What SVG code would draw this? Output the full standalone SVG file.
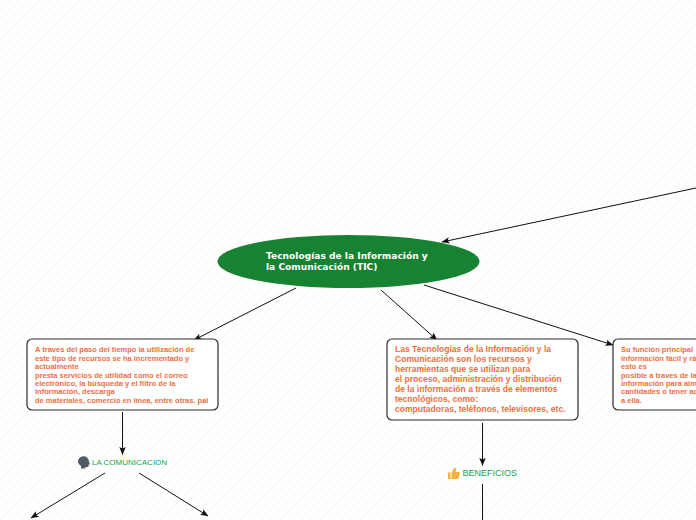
<svg xmlns="http://www.w3.org/2000/svg" width="696" height="520" viewBox="0 0 696 520">
<style>
.box{fill:#fff;stroke:#2b2b2b;stroke-width:1.2}
.o{font-family:"Liberation Sans",Arial,sans-serif;font-weight:700;fill:#ee6f42}
.s{font-size:7.5px}
.m{font-size:8.55px}
.g{font-family:"Liberation Sans",Arial,sans-serif;fill:#15a350}
.c{fill:none;stroke:#111;stroke-width:1;marker-end:url(#a)}
.t{font-family:"DejaVu Sans",sans-serif;font-weight:700;font-size:9.1px;fill:#fff}
</style>
<defs>
<pattern id="bg" width="10" height="10" patternUnits="userSpaceOnUse">
<path d="M-1 1L1 -1M0 10L10 0M9 11L11 9" stroke="#f3f3f3" stroke-width="0.8" fill="none"/>
</pattern>
<marker id="a" viewBox="0 0 8 8" refX="7.5" refY="4" markerWidth="8" markerHeight="8" markerUnits="userSpaceOnUse" orient="auto">
<path d="M0 0.8L8 4L0 7.2L1.6 4Z" fill="#111"/>
</marker>
</defs>
<rect width="696" height="520" fill="#fff"/>
<rect width="696" height="520" fill="url(#bg)"/>
<g id="connectors">
<path class="c" d="M696 188L442 242"/>
<path class="c" d="M296 288L194 340"/>
<path class="c" d="M381 290L437 340"/>
<path class="c" d="M424 285L613 345"/>
<path class="c" d="M122.5 412V454.500"/>
<path class="c" d="M105 473L31 518"/>
<path class="c" d="M139 473L208 516"/>
<path class="c" d="M482.500 423V465.500"/>
<path class="c" d="M482.500 484V530"/>
</g>
<g id="central">
<ellipse cx="348.500" cy="261.500" rx="131" ry="26.500" fill="#178332"/>
<text class="t" x="266" y="258.800">Tecnologías de la Información y</text>
<text class="t" x="266" y="269.800">la Comunicación (TIC)</text>
</g>
<g id="node-left">
<rect class="box" x="27" y="339" width="191" height="71" rx="5"/>
<text class="o s" x="35" y="352">A través del paso del tiempo la utilización de</text>
<text class="o s" x="35" y="360.500">este tipo de recursos se ha incrementado y</text>
<text class="o s" x="35" y="369">actualmente</text>
<text class="o s" x="35" y="377.500">presta servicios de utilidad como el correo</text>
<text class="o s" x="35" y="386">electrónico, la búsqueda y el filtro de la</text>
<text class="o s" x="35" y="394">información, descarga</text>
<text class="o s" x="35" y="403">de materiales, comercio en línea, entre otras. pal</text>
</g>
<g id="node-center">
<rect class="box" x="387" y="339" width="191" height="81" rx="5"/>
<text class="o m" x="395" y="352">Las Tecnologías de la Información y la</text>
<text class="o m" x="395" y="362">Comunicación son los recursos y</text>
<text class="o m" x="395" y="372">herramientas que se utilizan para</text>
<text class="o m" x="395" y="382">el proceso, administración y distribución</text>
<text class="o m" x="395" y="392">de la información a través de elementos</text>
<text class="o m" x="395" y="402">tecnológicos, como:</text>
<text class="o m" x="395" y="412">computadoras, teléfonos, televisores, etc.</text>
</g>
<g id="node-right">
<rect class="box" x="613" y="339" width="191" height="71" rx="5"/>
<text class="o s" x="621" y="352">Su función principal</text>
<text class="o s" x="621" y="360.500">información fácil y rá</text>
<text class="o s" x="621" y="369">esto es</text>
<text class="o s" x="621" y="377.500">posible a través de la</text>
<text class="o s" x="621" y="386">información para alm</text>
<text class="o s" x="621" y="394">cantidades o tener ac</text>
<text class="o s" x="621" y="403">a ella.</text>
</g>
<g id="node-comunicacion">
<path d="M78 462a5.500 5.500 0 0 1 11 -0.500l1 3h-1.500v2.500h-3v1.500h-4.500v-2.500a5 5 0 0 1 -3 -4z" fill="#4e5b66"/>
<text class="g" x="92" y="465" font-size="8px">LA COMUNICACION</text>
</g>
<g id="node-beneficios">
<path d="M448 472.500h2.500v6.500h-2.500zM451.500 472.500l3 -5c1.500 0 2 1 1.500 2.500l-0.500 2h3.500c1 0 1.200 1 0.800 1.500l-1.300 5c-0.200 0.500 -0.500 0.500 -1 0.500h-6z" fill="#f2b33d"/>
<text class="g" x="462.500" y="476" font-size="9px">BENEFICIOS</text>
</g>
</svg>
